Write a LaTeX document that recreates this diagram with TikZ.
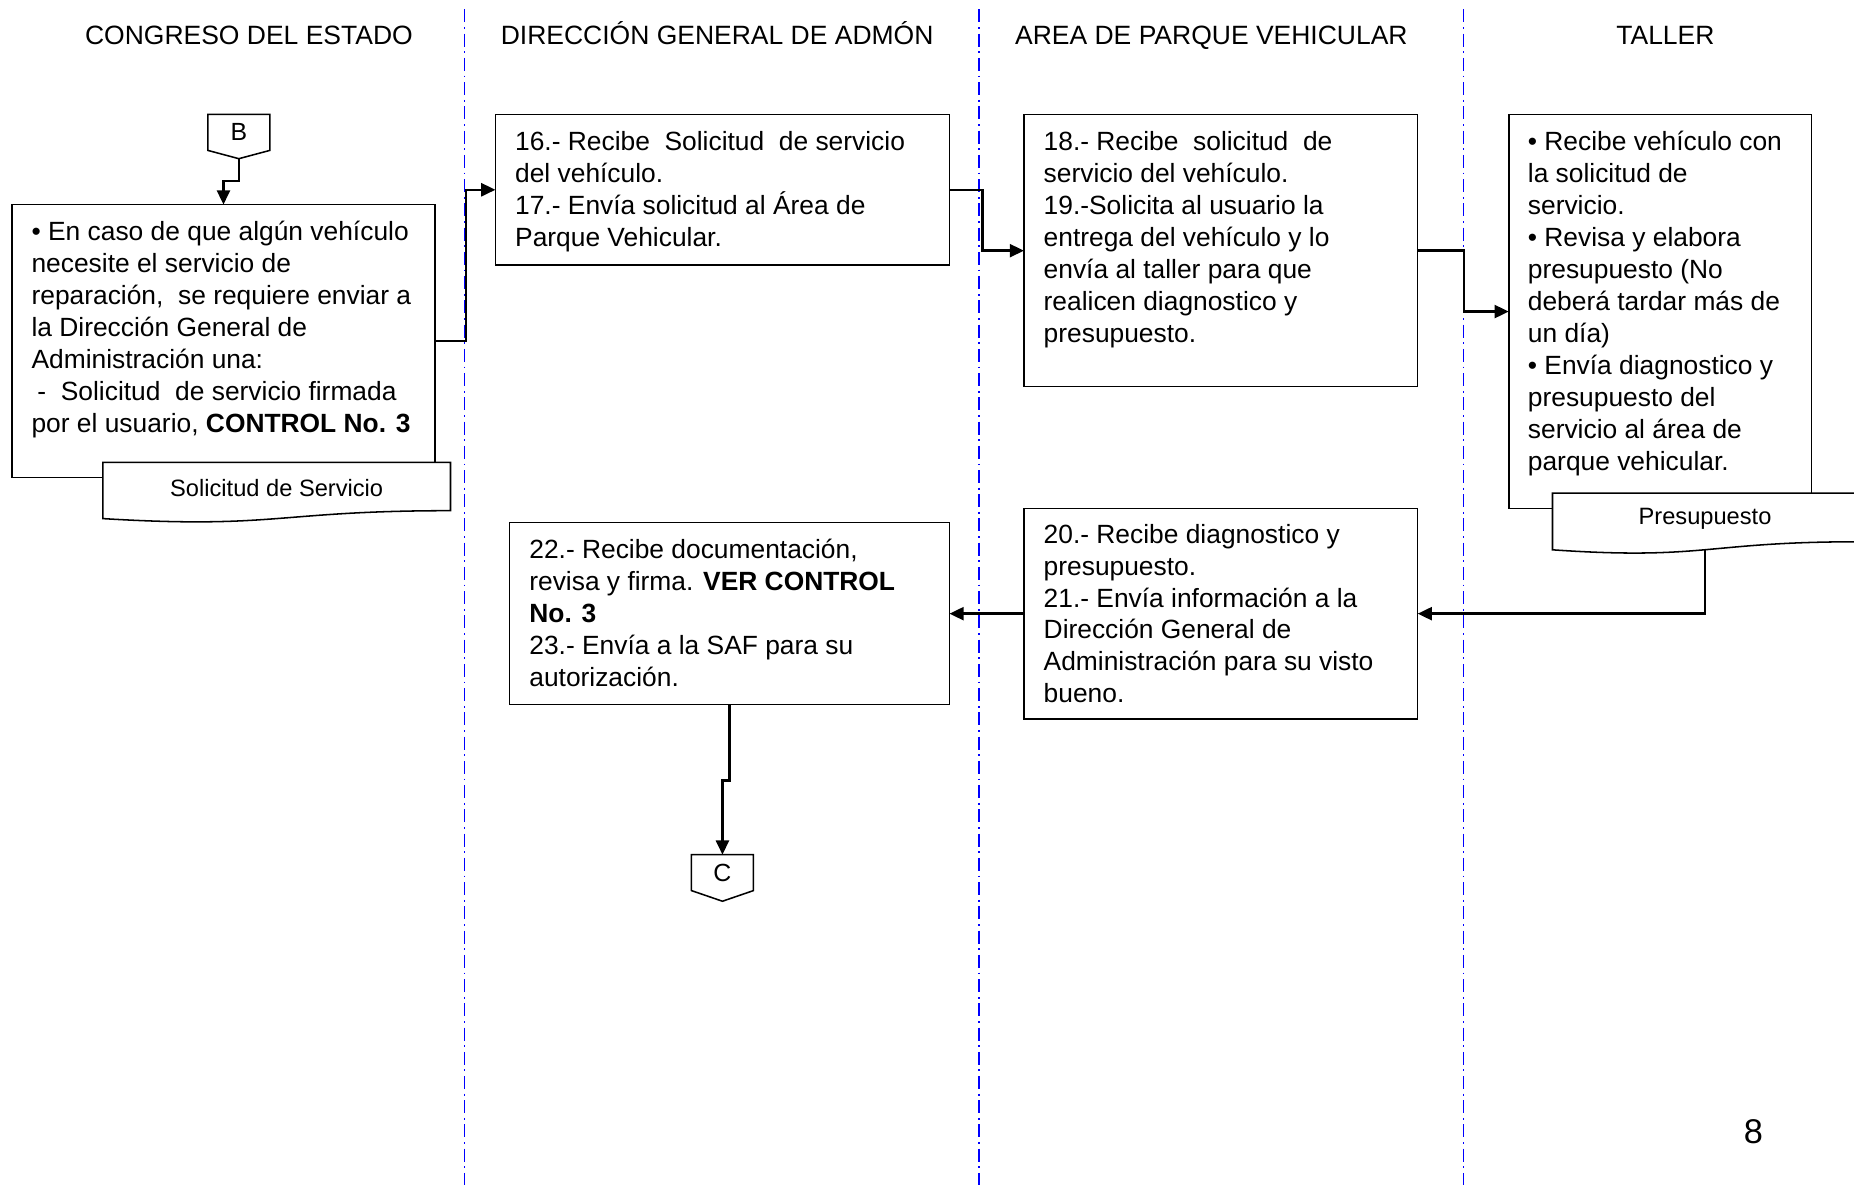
\documentclass[tikz,border=0pt]{standalone}
\usepackage{fontspec}
\setmainfont{Liberation Sans}
\usetikzlibrary{arrows.meta,calc}

\begin{document}
\begin{tikzpicture}[x=1pt,y=-1pt,
  box/.style={draw, line width=1.3pt, inner sep=0pt, outer sep=0pt},
  txt/.style={anchor=north west, inner sep=0pt, align=left, font=\fontsize{22.3}{27}\selectfont},
  head/.style={font=\fontsize{22.4}{27}\selectfont, inner sep=0pt, anchor=base},
  conn/.style={line width=2pt, -{Triangle[length=12pt,width=11pt]}},
  lane/.style={blue, line width=1pt, dash pattern=on 11pt off 4pt on 1.5pt off 4pt},
  docshape/.style={draw, fill=white, line width=1.3pt},
  doclabel/.style={font=\fontsize{20}{24}\selectfont, inner sep=0pt},
  offpage/.style={inner sep=0pt, minimum width=52pt, minimum height=30pt, font=\fontsize{21}{25}\selectfont}
]
\useasboundingbox (0,0) rectangle (1568,1002);
\clip (0,0) rectangle (1568,1002);

% swimlane separators
\draw[lane] (393,8) -- (393,1002);
\draw[lane] (828,8) -- (828,1002);
\draw[lane] (1238,8) -- (1238,1002);

% lane titles
\node[head] (h1) at (210.5,38) {CONGRESO DEL ESTADO};
\node[head] (h2) at (606.5,38) {DIRECCIÓN GENERAL DE ADMÓN};
\node[head] (h3) at (1024.5,38) {AREA DE PARQUE VEHICULAR};
\node[head] (h4) at (1408.5,38) {TALLER};

% off-page connector B
\node[offpage] (B) at (202,112) {B};
\draw[line width=1.3pt] (B.north west) -- (B.north east) -- (B.south east) -- ($(B.south)+(0,7)$) -- (B.south west) -- cycle;
\coordinate (Btip) at ($(B.south)+(0,7)$);

% process boxes
\node[box, minimum width=358pt, minimum height=231pt] (b1) at (189,288.5) {};
\node[box, minimum width=384pt, minimum height=127pt] (b2) at (611,160.5) {};
\node[box, minimum width=333pt, minimum height=230pt] (b3) at (1032.5,212) {};
\node[box, minimum width=256pt, minimum height=333pt] (b4) at (1404,263.5) {};
\node[box, minimum width=333pt, minimum height=178pt] (b5) at (1032.5,519) {};
\node[box, minimum width=372pt, minimum height=154pt] (b6) at (617,519) {};

\node[txt] (t1) at ($(b1.north west)+(16.5,14)$) {%
• En caso de que algún vehículo\\
necesite el servicio de\\
reparación,\ \ se requiere enviar a\\
la Dirección General de\\
Administración una:\\
\hspace*{5pt}-\ \ Solicitud\ \ de servicio firmada\\
por el usuario, \textbf{CONTROL No. 3}};

\node[txt] (t2) at ($(b2.north west)+(16.5,14)$) {%
16.- Recibe\ \ Solicitud\ \ de servicio\\
del vehículo.\\
17.- Envía solicitud al Área de\\
Parque Vehicular.};

\node[txt] (t3) at ($(b3.north west)+(16.5,14)$) {%
18.- Recibe\ \ solicitud\ \ de\\
servicio del vehículo.\\
19.-Solicita al usuario la\\
entrega del vehículo y lo\\
envía al taller para que\\
realicen diagnostico y\\
presupuesto.};

\node[txt] (t4) at ($(b4.north west)+(16,14)$) {%
• Recibe vehículo con\\
la solicitud de\\
servicio.\\
• Revisa y elabora\\
presupuesto (No\\
deberá tardar más de\\
un día)\\
• Envía diagnostico y\\
presupuesto del\\
servicio al área de\\
parque vehicular.};

\node[txt] (t5) at ($(b5.north west)+(16.5,13)$) {%
20.- Recibe diagnostico y\\
presupuesto.\\
21.- Envía información a la\\
Dirección General de\\
Administración para su visto\\
bueno.};

\node[txt] (t6) at ($(b6.north west)+(16.5,14)$) {%
22.- Recibe documentación,\\
revisa y firma. \textbf{VER CONTROL}\\
\textbf{No. 3}\\
23.- Envía a la SAF para su\\
autorización.};

% document symbols
\draw[docshape] (87,391) -- (381,391) -- (381,431.9)
  .. controls (234,431.9) and (234,447.5) .. (87,438.6) -- cycle;
\node[doclabel] (d1) at (234,413) {Solicitud de Servicio};

\draw[docshape] (1313,417) -- (1571,417) -- (1571,458.2)
  .. controls (1442,458.2) and (1442,473.9) .. (1313,465) -- cycle;
\node[doclabel] (d2) at (1442,439) {Presupuesto};
\coordinate (pbot) at (1442,465);

% off-page connector C
\node[offpage] (C) at (611,738) {C};
\draw[line width=1.3pt] (C.north west) -- (C.north east) -- (C.south east) -- ($(C.south)+(0,9)$) -- (C.south west) -- cycle;

% flow connectors
\draw[conn] (Btip) -- ++(0,19) -| (b1.north);
\draw[conn] (b1.east) -- ++(26,0) |- (b2.west);
\draw[conn] (b2.east) -- ++(28,0) |- (b3.west);
\draw[conn] (b3.east) -- ++(39,0) |- (b4.west);
\draw[conn] (pbot) |- (b5.east);
\draw[conn] (b5.west) -- (b6.east);
\draw[conn] (b6.south) -- ++(0,64) -| (C.north);

% page number
\node[font=\fontsize{29}{34}\selectfont, inner sep=0pt] (pnum) at (1483,957) {8};
\end{tikzpicture}
\end{document}
